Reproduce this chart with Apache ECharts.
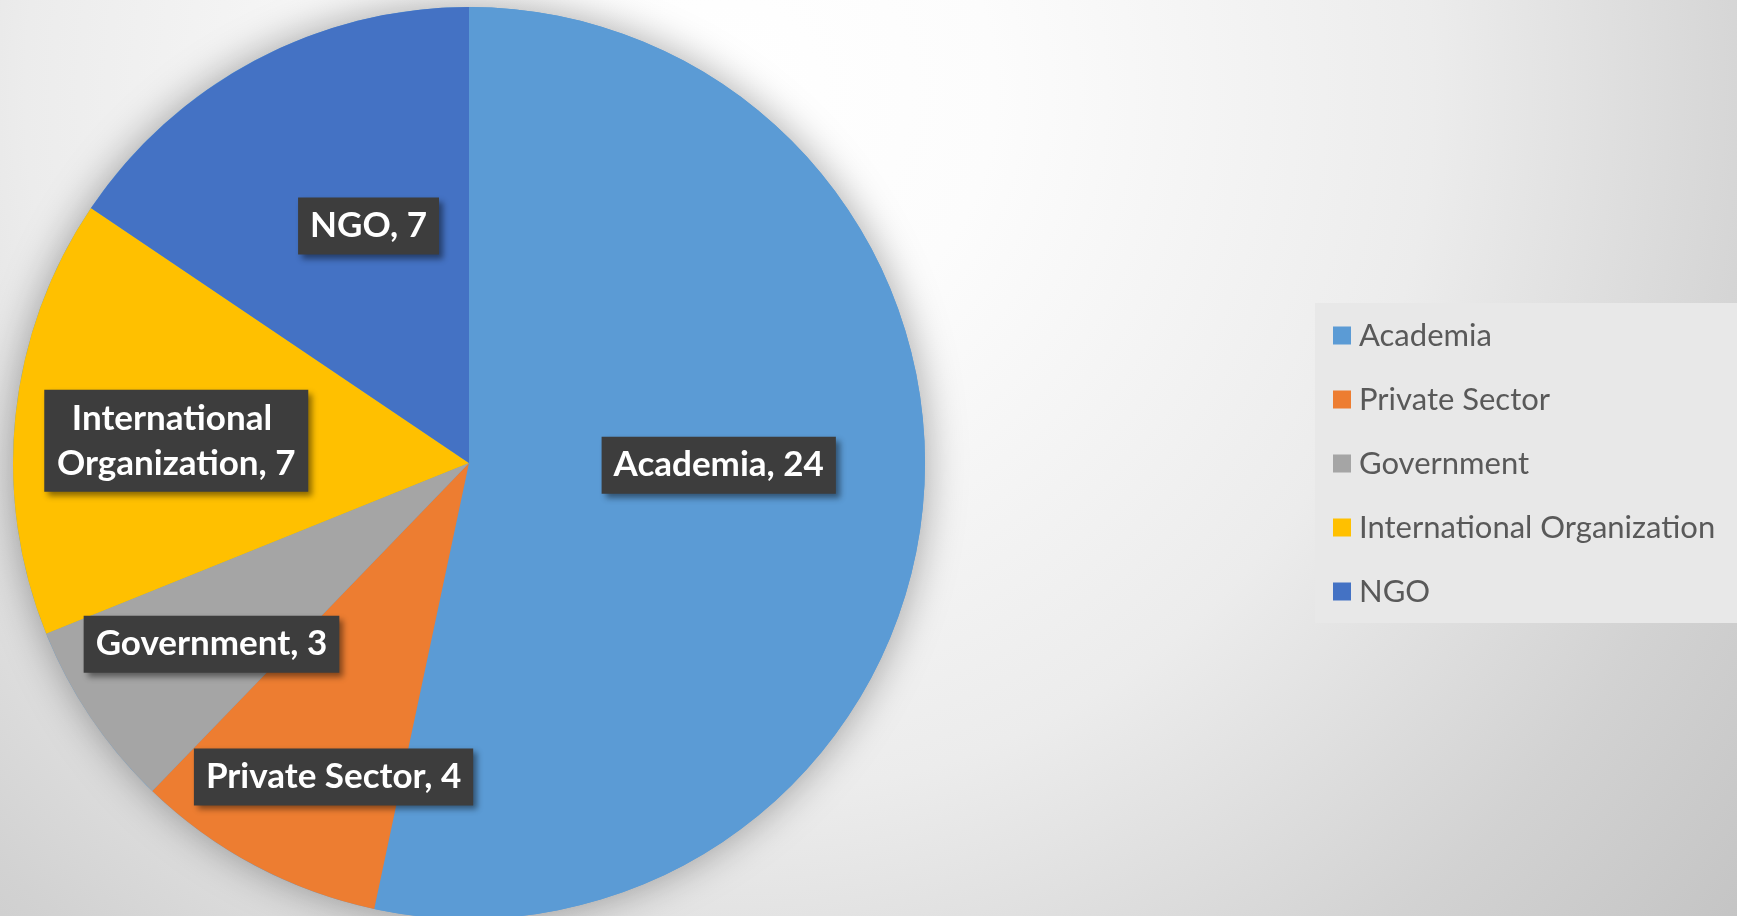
<!DOCTYPE html>
<html>
<head>
<meta charset="utf-8">
<title>Participants by sector</title>
<script src="https://cdn.jsdelivr.net/npm/echarts@6/dist/echarts.min.js"></script>
<style>
  html, body { margin: 0; padding: 0; }
  #chart { width: 1737px; height: 916px; }
</style>
</head>
<body>
<div id="chart"></div>
<script>
// data
const sectors = ["Academia", "Private Sector", "Government", "International Organization", "NGO"];
const counts = [24, 4, 3, 7, 7];
const colors = ["#5B9BD5", "#ED7D31", "#A5A5A5", "#FFC000", "#4472C4"];

// nudges of the data labels away from the default "inside" spot
const labelShift = [[20, -22], [-27, 110], [-66, 52], [-63, 2], [8, -33]];

const FONT = 'Lato, "Liberation Sans", sans-serif';
const PIE_CENTER = [469, 463];
const PIE_R = 456;

let myChart = echarts.init(document.getElementById("chart"));

myChart.setOption({
  backgroundColor: {
    type: "radial",
    x: 0.42, y: 0.1, r: 1.45,
    colorStops: [
      { offset: 0, color: "#ffffff" },
      { offset: 0.2, color: "#fcfcfc" },
      { offset: 0.53, color: "#ececec" },
      { offset: 0.8, color: "#d2d2d2" },
      { offset: 1, color: "#c3c3c3" }
    ]
  },
  animation: false,
  legend: {
    orient: "vertical",
    left: 1315,
    top: 303,
    padding: [17, 40, 16, 18],
    backgroundColor: "#e8e8e8",
    icon: "rect",
    itemWidth: 18,
    itemHeight: 18,
    itemGap: 33,
    data: sectors,
    textStyle: {
      fontFamily: FONT,
      fontSize: 31,
      lineHeight: 30,
      padding: [0, 0, 0, 3],
      color: "#595959"
    }
  },
  series: [
    {
      // soft shadow behind the whole pie
      type: "pie",
      silent: true,
      center: PIE_CENTER,
      radius: PIE_R,
      label: { show: false },
      labelLine: { show: false },
      itemStyle: {
        color: "#5B9BD5",
        shadowBlur: 40,
        shadowColor: "rgba(0,0,0,0.35)"
      },
      data: [{ value: 1, name: "_shadow" }]
    },
    {
      type: "pie",
      center: PIE_CENTER,
      radius: PIE_R,
      startAngle: 90,
      clockwise: true,
      avoidLabelOverlap: false,
      color: colors,
      itemStyle: { borderWidth: 0 },
      label: {
        show: true,
        position: "inside",
        formatter: "{b}, {c}",
        fontFamily: FONT,
        fontWeight: "bold",
        fontSize: 35,
        lineHeight: 45,
        color: "#ffffff",
        backgroundColor: "#3d3d3d",
        padding: [6, 12],
        shadowBlur: 6,
        shadowOffsetX: 4,
        shadowOffsetY: 4,
        shadowColor: "rgba(0,0,0,0.45)"
      },
      labelLine: { show: false },
      labelLayout: function (params) {
        const s = labelShift[params.dataIndex] || [0, 0];
        return { dx: s[0], dy: s[1] };
      },
      data: sectors.map(function (name, i) {
        const item = { name: name, value: counts[i] };
        if (name === "International Organization") {
          item.label = { width: 240, overflow: "break" };
        }
        return item;
      })
    }
  ]
});
</script>
</body>
</html>
